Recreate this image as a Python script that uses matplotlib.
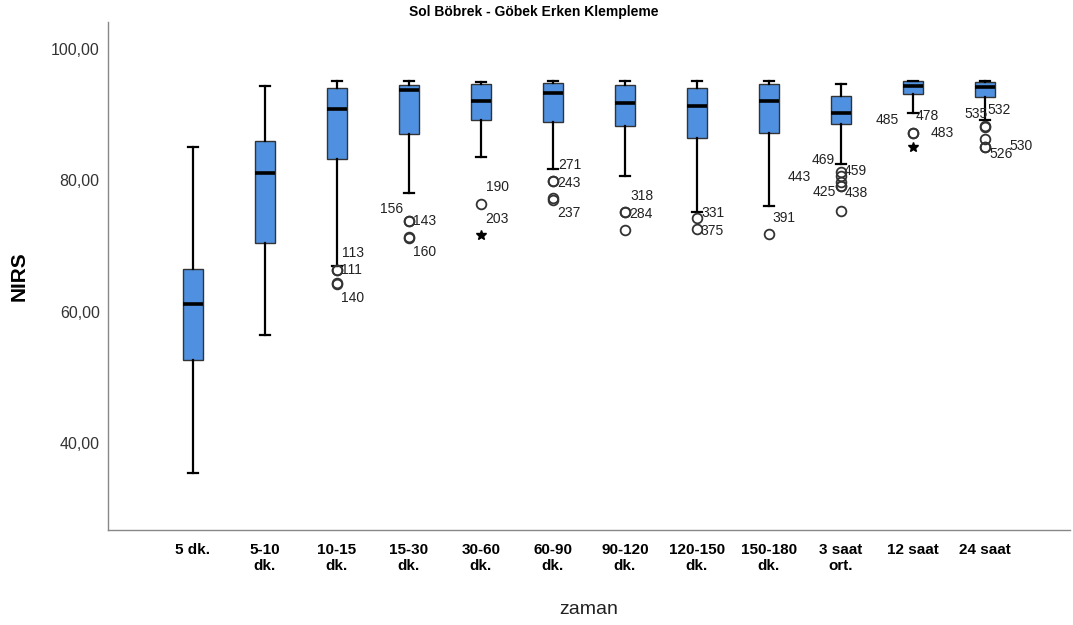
import matplotlib
matplotlib.use("Agg")
import matplotlib.pyplot as plt
from matplotlib.ticker import FuncFormatter

# categories on the x axis (zaman)
categories = ["5 dk.", "5-10\ndk.", "10-15\ndk.", "15-30\ndk.", "30-60\ndk.", "60-90\ndk.",
              "90-120\ndk.", "120-150\ndk.", "150-180\ndk.", "3 saat\nort.", "12 saat", "24 saat"]

# box statistics
q1 = [52.70, 70.54, 83.27, 87.03, 89.20, 88.95, 88.34, 86.42, 87.27, 88.54, 93.16, 92.75]
medians = [61.26, 81.19, 90.83, 93.76, 92.09, 93.31, 91.83, 91.33, 92.04, 90.31, 94.42, 94.27]
q3 = [66.54, 86.05, 94.12, 94.47, 94.63, 94.78, 94.52, 94.02, 94.68, 92.90, 95.08, 94.98]
whisk_lo = [35.56, 56.50, 67.00, 78.14, 83.62, 81.70, 80.73, 75.16, 76.17, 82.56, 90.22, 89.20]
whisk_hi = [85.14, 94.37, 95.13, 95.13, 95.03, 95.08, 95.13, 95.13, 95.13, 94.68, 95.13, 95.13]

# outliers (circles) and extremes (stars) with their case numbers
outlier_vals = [[], [],
                [66.40, 66.40, 64.20, 64.35],
                [73.84, 73.84, 71.25, 71.45],
                [76.47],
                [79.97, 79.97, 77.05, 77.30],
                [75.21, 75.21, 72.47],
                [74.35, 72.58],
                [71.86],
                [81.34, 80.68, 79.82, 79.16, 79.16, 75.36],
                [87.22, 87.22],
                [88.10, 88.28, 86.27, 85.14, 85.14]]
outlier_cases = [[], [],
                 ["113", "111", "140", ""],
                 ["156", "143", "160", ""],
                 ["190"],
                 ["271", "243", "237", ""],
                 ["318", "284", ""],
                 ["331", "375"],
                 ["391"],
                 ["469", "459", "443", "425", "438", ""],
                 ["485", "478"],
                 ["535", "532", "", "526", "530"]]
extreme_vals = [[], [], [], [], [71.71], [], [], [], [], [], [85.05], []]
extreme_cases = [[], [], [], [], ["203"], [], [], [], [], [], ["483"], []]

# label placement (pixels right, pixels down, alignment)
label_pos = {
    "113": (5, -17, "left"), "111": (4, 0, "left"), "140": (4, 14, "left"),
    "156": (-6, -12, "right"), "143": (4, 0, "left"), "160": (4, 14, "left"),
    "190": (5, -17, "left"), "203": (4, -16, "left"),
    "271": (5, -16, "left"), "243": (4, 2, "left"), "237": (4, 13, "left"),
    "318": (5, -16, "left"), "284": (4, 2, "left"),
    "331": (5, -5, "left"), "375": (4, 2, "left"),
    "391": (4, -16, "left"),
    "469": (-6, -12, "right"), "459": (3, -5, "left"), "443": (-30, -5, "right"),
    "425": (-5, 6, "right"), "438": (4, 7, "left"),
    "485": (-14, -13, "right"), "478": (3, -17, "left"), "483": (18, -14, "left"),
    "535": (-20, -13, "left"), "532": (3, -16, "left"), "526": (5, 7, "left"), "530": (25, -1, "left"),
}

box_color = "#4f91e0"

fig = plt.figure(figsize=(10.73, 6.25), dpi=100)
ax = fig.add_axes([0.1007, 0.152, 0.8963, 0.8128])

stats = []
for i in range(len(categories)):
    stats.append(dict(med=medians[i], q1=q1[i], q3=q3[i],
                      whislo=whisk_lo[i], whishi=whisk_hi[i], fliers=[]))

pos = list(range(len(categories)))
ax.bxp(stats, positions=pos, widths=0.28, capwidths=0.14, patch_artist=True, showfliers=False,
       boxprops=dict(facecolor=box_color, edgecolor="#333333", linewidth=1.0),
       medianprops=dict(color="black", linewidth=2.6, solid_capstyle="butt"),
       whiskerprops=dict(color="black", linewidth=1.6),
       capprops=dict(color="black", linewidth=1.6))

for i in pos:
    for v in outlier_vals[i]:
        ax.plot(i, v, "o", ms=7, mfc="none", mec="#333333", mew=1.3, zorder=4)
    for v in extreme_vals[i]:
        ax.plot(i, v, "*", ms=7, color="black", zorder=4)
    for v, c in list(zip(outlier_vals[i], outlier_cases[i])) + list(zip(extreme_vals[i], extreme_cases[i])):
        if not c:
            continue
        dx, dy, ha = label_pos[c]
        ax.annotate(c, xy=(i, v), xytext=(dx, -dy),
                    textcoords="offset pixels", ha=ha, va="center",
                    fontsize=10, color="#222222", family="Liberation Sans")

ax.set_xlim(-1.18, 12.18)
ax.set_ylim(26.84, 104.1)
ax.set_yticks([40, 60, 80, 100])
ax.yaxis.set_major_formatter(FuncFormatter(lambda v, p: ("%.2f" % v).replace(".", ",")))
ax.set_xticks(pos)
ax.set_xticklabels(categories, fontsize=11, fontweight="bold", family="Liberation Sans",
                   multialignment="center", linespacing=1.25)
for lab in ax.get_yticklabels():
    lab.set_fontsize(11.5)
    lab.set_family("Liberation Sans")
    lab.set_color("#333333")
ax.tick_params(axis="both", length=0)
ax.tick_params(axis="y", pad=6)
ax.tick_params(axis="x", pad=9)

for s in ["top", "right"]:
    ax.spines[s].set_visible(False)
for s in ["left", "bottom"]:
    ax.spines[s].set_color("#888888")
    ax.spines[s].set_linewidth(1.0)

ax.set_ylabel("NIRS", fontsize=15, fontweight="bold", family="Liberation Sans", labelpad=16)
ax.set_xlabel("zaman", fontsize=14, family="Liberation Sans", color="#222222", labelpad=20)
fig.text(0.497, 0.981, "Sol Böbrek - Göbek Erken Klempleme", ha="center", va="center",
         fontsize=10, fontweight="bold", family="Liberation Sans")

fig.savefig("out.png", dpi=100)
